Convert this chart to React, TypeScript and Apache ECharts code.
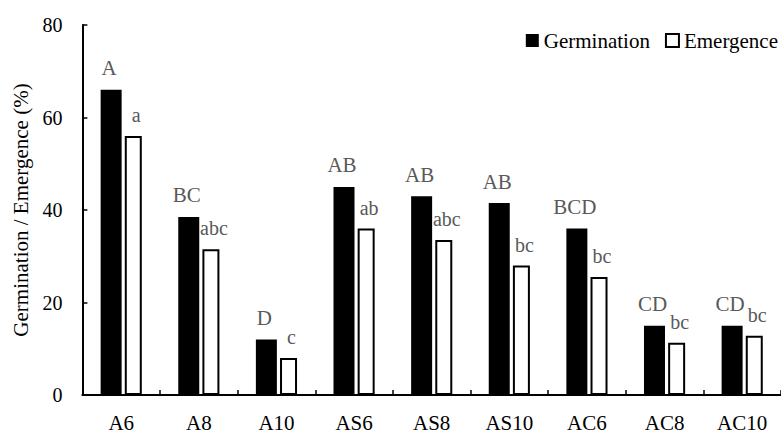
import React, { useEffect, useRef } from "react";
import * as echarts from "echarts";

const categories = ["A6", "A8", "A10", "AS6", "AS8", "AS10", "AC6", "AC8", "AC10"];
const germination = [66, 38.5, 12, 45, 43, 41.5, 36, 15, 15];
const emergence = [56, 31.5, 8, 36, 33.5, 28, 25.5, 11.3, 12.8];
const germLetters = ["A", "BC", "D", "AB", "AB", "AB", "BCD", "CD", "CD"];
const emerLetters = ["a", "abc", "c", "ab", "abc", "bc", "bc", "bc", "bc"];
const yTicks = [0, 20, 40, 60, 80];

const FONT = "Liberation Serif";

export default function App() {
  const ref = useRef<HTMLDivElement>(null);
  useEffect(() => {
    if (!ref.current) return;
    const chart = echarts.init(ref.current, undefined, { renderer: "svg" });
    chart.setOption({
      animation: false,
      textStyle: { fontFamily: FONT },
      legend: {
        top: 30,
        right: 3,
        padding: 0,
        itemWidth: 13,
        itemHeight: 13,
        itemGap: 15,
        textStyle: { fontFamily: FONT, fontSize: 21, color: "#000" },
        data: [
          { name: "Germination", icon: "rect" },
          { name: "Emergence", icon: "rect" },
        ],
      },
      grid: { left: 82.4, right: -6.4, top: 25, bottom: 34, containLabel: false },
      xAxis: {
        type: "category",
        data: categories,
        axisLine: { lineStyle: { color: "#000", width: 2 } },
        axisTick: { show: true, inside: true, length: 5, lineStyle: { color: "#000", width: 1.5 } },
        axisLabel: { fontFamily: FONT, fontSize: 21, color: "#000", margin: 17 },
      },
      yAxis: {
        type: "value",
        min: yTicks[0],
        max: yTicks[yTicks.length - 1],
        interval: 20,
        name: "Germination / Emergence (%)",
        nameLocation: "middle",
        nameGap: 51,
        nameTextStyle: { fontFamily: FONT, fontSize: 21, color: "#000" },
        axisLine: { show: true, lineStyle: { color: "#000", width: 2 } },
        axisTick: { show: true, inside: true, length: 5, lineStyle: { color: "#000", width: 1.5 } },
        splitLine: { show: false },
        axisLabel: { fontFamily: FONT, fontSize: 20, color: "#000", margin: 20 },
      },
      series: [
        {
          name: "Germination",
          type: "bar",
          data: germination,
          barWidth: 21,
          barGap: "15%",
          itemStyle: { color: "#000" },
          label: {
            show: true,
            position: "top",
            distance: 11,
            offset: [-2, 0],
            fontFamily: FONT,
            fontSize: 21,
            color: "#595959",
            formatter: (p: any) => germLetters[p.dataIndex],
          },
        },
        {
          name: "Emergence",
          type: "bar",
          data: emergence,
          barWidth: 17,
          barGap: "15%",
          itemStyle: { color: "#fff", borderColor: "#000", borderWidth: 2 },
          label: {
            show: true,
            position: "top",
            distance: 11,
            offset: [3, 0],
            fontFamily: FONT,
            fontSize: 20,
            color: "#595959",
            formatter: (p: any) => emerLetters[p.dataIndex],
          },
        },
      ],
    });
    return () => chart.dispose();
  }, []);
  return <div ref={ref} style={{ width: 781, height: 433, position: "absolute", left: 0, top: 0 }} />;
}
